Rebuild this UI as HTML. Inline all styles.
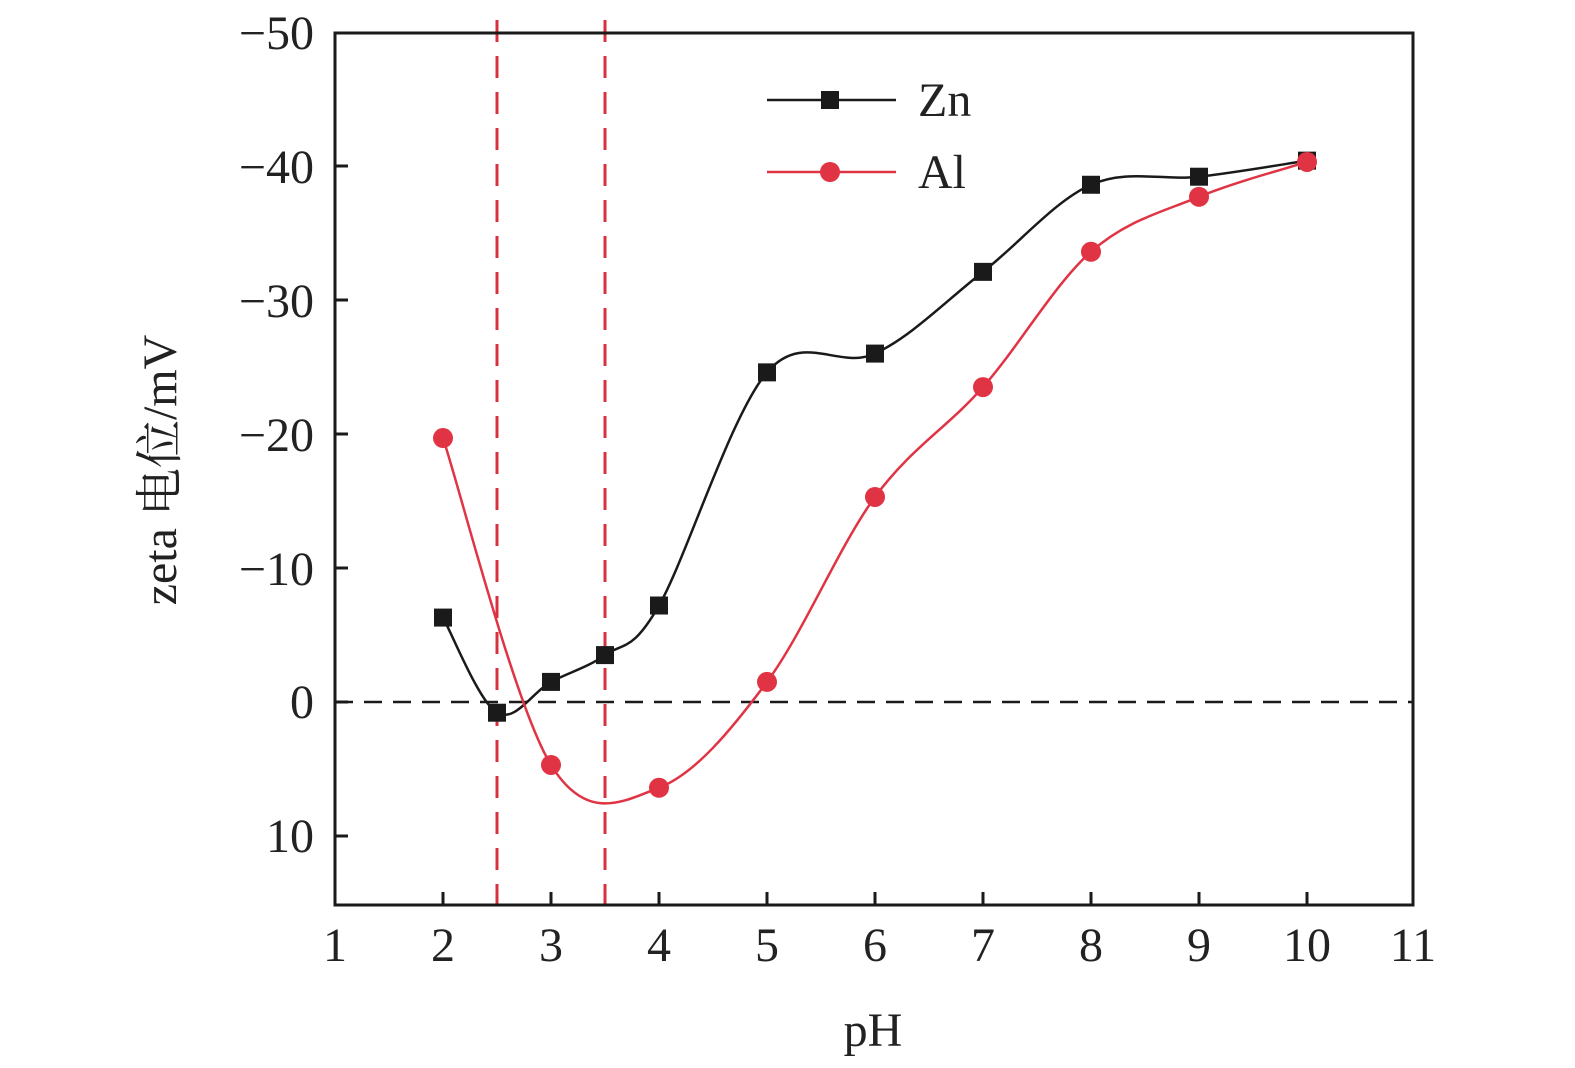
<!DOCTYPE html>
<html><head><meta charset="utf-8"><style>
html,body{margin:0;padding:0;background:#fff;}
svg{display:block;font-family:"Liberation Serif","Times New Roman","Noto Serif CJK SC",serif;}
</style></head><body>
<svg id="s" width="1575" height="1068" viewBox="0 0 1575 1068" xmlns="http://www.w3.org/2000/svg">
<g id="g"></g>
<g font-size="48" fill="#222" text-anchor="end">
<text x="314" y="49">−50</text>
<text x="314" y="183">−40</text>
<text x="314" y="317">−30</text>
<text x="314" y="451">−20</text>
<text x="314" y="585">−10</text>
<text x="314" y="718">0</text>
<text x="314" y="852">10</text>
</g>
<g font-size="48" fill="#222" text-anchor="middle">
<text x="335" y="961">1</text><text x="443" y="961">2</text><text x="551" y="961">3</text>
<text x="659" y="961">4</text><text x="767" y="961">5</text><text x="875" y="961">6</text>
<text x="983" y="961">7</text><text x="1091" y="961">8</text><text x="1199" y="961">9</text>
<text x="1307" y="961">10</text><text x="1413" y="961">11</text>
<text x="873" y="1046">pH</text>
<text transform="translate(176,470) rotate(-90)">zeta 电位/mV</text>
</g>
<g font-size="48" fill="#222">
<text x="918" y="116">Zn</text>
<text x="918" y="188">Al</text>
</g>
<line x1="767" y1="100" x2="896" y2="100" stroke="#1a1a1a" stroke-width="2.5"/>
<rect x="821" y="91" width="18" height="18" fill="#1a1a1a"/>
<line x1="767" y1="172" x2="896" y2="172" stroke="#e03444" stroke-width="2.5"/>
<circle cx="830" cy="172" r="10" fill="#e03444"/>
</svg>
<script>
var X=function(v){return 335+(v-1)*108;}, Y=function(v){return 702+v*13.4;};
var g=document.getElementById('g'),h='';
h+='<line x1="335" y1="'+Y(0)+'" x2="1413" y2="'+Y(0)+'" stroke="#1a1a1a" stroke-width="2.5" stroke-dasharray="18,11"/>';
h+='<line x1="'+X(2.5)+'" y1="20" x2="'+X(2.5)+'" y2="905" stroke="#d8303c" stroke-width="3" stroke-dasharray="22,14"/>';
h+='<line x1="'+X(3.5)+'" y1="20" x2="'+X(3.5)+'" y2="905" stroke="#d8303c" stroke-width="3" stroke-dasharray="22,14"/>';
h+='<rect x="335" y="33" width="1078" height="872" fill="none" stroke="#1a1a1a" stroke-width="3"/>';
for(var i=2;i<=10;i++)h+='<line x1="'+X(i)+'" y1="905" x2="'+X(i)+'" y2="892" stroke="#1a1a1a" stroke-width="3"/>';
for(var v=-40;v<=10;v+=10)h+='<line x1="335" y1="'+Y(v)+'" x2="348" y2="'+Y(v)+'" stroke="#1a1a1a" stroke-width="3"/>';
function path(p){var s='M'+p[0][0]+','+p[0][1];for(var i=0;i<p.length-1;i++){var a=p[i-1]||p[i],b=p[i],c=p[i+1],d=p[i+2]||c;
s+=' C'+(b[0]+(c[0]-a[0])/6)+','+(b[1]+(c[1]-a[1])/6)+' '+(c[0]-(d[0]-b[0])/6)+','+(c[1]-(d[1]-b[1])/6)+' '+c[0]+','+c[1];}return s;}
var zn=[[2,-6.3],[2.5,0.8],[3,-1.5],[3.5,-3.5],[4,-7.2],[5,-24.6],[6,-26],[7,-32.1],[8,-38.6],[9,-39.2],[10,-40.4]];
var al=[[2,-19.7],[3,4.7],[4,6.4],[5,-1.5],[6,-15.3],[7,-23.5],[8,-33.6],[9,-37.7],[10,-40.3]];
var zp=zn.map(function(d){return[X(d[0]),Y(d[1])]}), ap=al.map(function(d){return[X(d[0]),Y(d[1])]});
h+='<path d="'+path(zp)+'" fill="none" stroke="#1a1a1a" stroke-width="2.5"/>';
h+='<path d="'+path(ap)+'" fill="none" stroke="#e03444" stroke-width="2.5"/>';
zp.forEach(function(p){h+='<rect x="'+(p[0]-9)+'" y="'+(p[1]-9)+'" width="18" height="18" fill="#1a1a1a"/>';});
ap.forEach(function(p){h+='<circle cx="'+p[0]+'" cy="'+p[1]+'" r="10" fill="#e03444"/>';});
g.innerHTML=h;
</script>
</body></html>
